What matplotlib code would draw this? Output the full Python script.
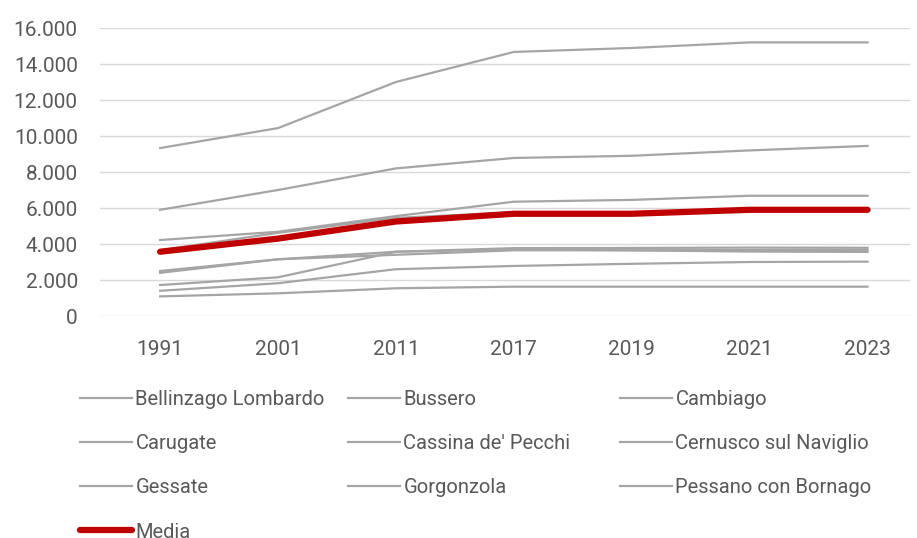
import numpy as np
import matplotlib.pyplot as plt
from matplotlib.ticker import FuncFormatter

# Years on the category axis
years = ["1991", "2001", "2011", "2017", "2019", "2021", "2023"]

# Values per comune
bellinzago = [1090, 1260, 1540, 1630, 1630, 1630, 1630]
bussero = [2500, 3150, 3570, 3770, 3780, 3800, 3790]
cambiago = [1400, 1820, 2600, 2780, 2900, 3000, 3020]
carugate = [4220, 4680, 5550, 6350, 6450, 6680, 6680]
cassina = [3650, 4620, 5450, 5760, 5760, 5960, 5960]
cernusco = [9330, 10440, 13000, 14670, 14890, 15200, 15200]
gessate = [1720, 2150, 3570, 3700, 3650, 3580, 3560]
gorgonzola = [5900, 7000, 8200, 8780, 8900, 9200, 9450]
pessano = [2400, 3150, 3400, 3650, 3650, 3670, 3670]
media = [3570, 4300, 5250, 5680, 5680, 5900, 5900]

names = ["Bellinzago Lombardo", "Bussero", "Cambiago", "Carugate",
         "Cassina de' Pecchi", "Cernusco sul Naviglio", "Gessate",
         "Gorgonzola", "Pessano con Bornago"]
series = [bellinzago, bussero, cambiago, carugate, cassina, cernusco,
          gessate, gorgonzola, pessano]

plt.rcParams['font.family'] = ['Roboto', 'DejaVu Sans']
text_col = "#595959"

fig = plt.figure(figsize=(9.17, 5.38), dpi=100)
ax = fig.add_axes([100 / 917, 1 - 316 / 538, 810 / 917, 288 / 538])

x = np.arange(len(years))
handles = []
for name, vals in zip(names, series):
    h, = ax.plot(x, vals, color="#A5A5A5", lw=1.6, label=name, zorder=2)
    handles.append(h)
h_media, = ax.plot(x, media, color="#C00000", lw=4.5, solid_capstyle="round",
                   label="Media", zorder=3)

ax.set_xlim(-0.51, 6.36)
ax.set_ylim(0, 16000)
ax.set_yticks(np.arange(0, 16001, 2000))
ax.yaxis.set_major_formatter(FuncFormatter(lambda v, p: f"{int(v):,}".replace(",", ".")))
ax.set_xticks(x)
ax.set_xticklabels(years)
ax.tick_params(axis="both", length=0, labelsize=15, labelcolor=text_col)
ax.tick_params(axis="x", pad=17)
ax.tick_params(axis="y", pad=16)
ax.grid(axis="y", color="#D9D9D9", lw=1)
ax.set_axisbelow(True)
for s in ax.spines.values():
    s.set_visible(False)

# legend: three columns, Excel-style even spacing
col_x = [80 / 917, 348 / 917, 620 / 917]
for j in range(3):
    hs = handles[j::3]
    if j == 0:
        hs = hs + [h_media]
    leg = fig.legend(handles=hs, loc="upper left",
                     bbox_to_anchor=(col_x[j], 1 - 390 / 538),
                     frameon=False, fontsize=14.5, handlelength=2.6,
                     handletextpad=0.15, labelspacing=1.25,
                     borderaxespad=0, borderpad=0)
    for t in leg.get_texts():
        t.set_color(text_col)

fig.savefig("out.png", dpi=100)
